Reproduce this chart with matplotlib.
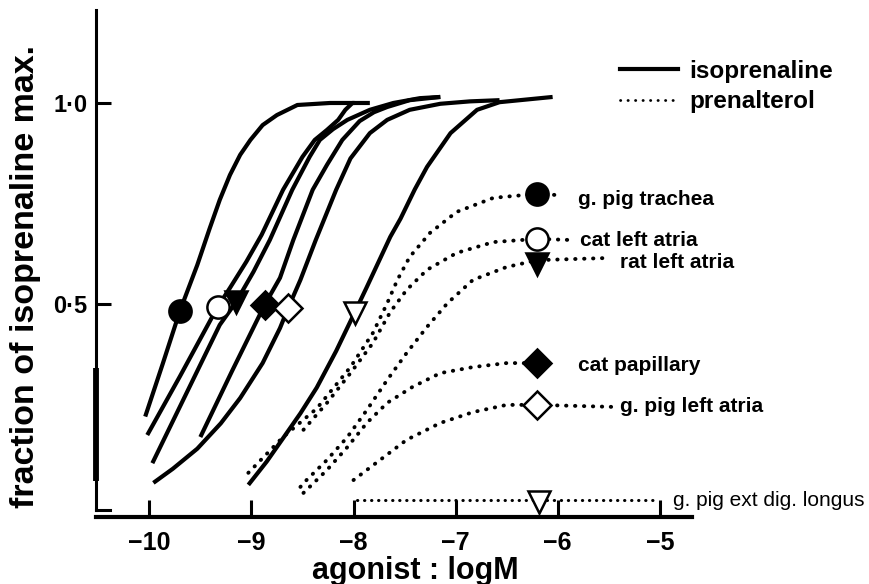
import matplotlib
matplotlib.use("Agg")
import matplotlib.pyplot as plt
from matplotlib.lines import Line2D

plt.rcParams["font.family"] = ["Liberation Sans", "DejaVu Sans"]
plt.rcParams["font.weight"] = "bold"

# isoprenaline (solid) curves, log M vs fraction of max
trachea_iso_x = [-10.04, -9.87, -9.70, -9.53, -9.41, -9.31, -9.21, -9.11, -9.01, -8.89, -8.75, -8.55, -8.23, -7.99]
trachea_iso_y = [0.22, 0.35, 0.483, 0.597, 0.687, 0.759, 0.821, 0.871, 0.908, 0.945, 0.970, 0.995, 1.0, 1.0]
catla_iso_x = [-10.02, -9.70, -9.39, -9.33, -9.21, -9.05, -8.90, -8.69, -8.50, -8.38, -8.26, -8.15, -8.08, -8.01, -7.84]
catla_iso_y = [0.174, 0.32, 0.465, 0.493, 0.540, 0.605, 0.672, 0.784, 0.866, 0.908, 0.933, 0.958, 0.983, 1.0, 1.0]
ratla_iso_x = [-9.97, -9.64, -9.31, -9.15, -8.98, -8.82, -8.60, -8.43, -8.33, -8.20, -8.06, -7.84, -7.61, -7.35, -7.15]
ratla_iso_y = [0.104, 0.276, 0.448, 0.505, 0.580, 0.659, 0.784, 0.866, 0.908, 0.935, 0.958, 0.983, 1.0, 1.012, 1.015]
catpap_iso_x = [-9.50, -9.19, -8.87, -8.72, -8.59, -8.40, -8.26, -8.11, -7.94, -7.80, -7.67, -7.45, -7.15]
catpap_iso_y = [0.169, 0.333, 0.498, 0.565, 0.659, 0.784, 0.846, 0.908, 0.955, 0.977, 0.990, 1.007, 1.015]
gpla_iso_x = [-9.96, -9.77, -9.53, -9.30, -9.11, -8.89, -8.72, -8.64, -8.52, -8.37, -8.17, -8.03, -7.84, -7.67, -7.45, -7.15, -6.86, -6.57]
gpla_iso_y = [0.055, 0.090, 0.140, 0.203, 0.266, 0.353, 0.440, 0.49, 0.560, 0.659, 0.784, 0.862, 0.925, 0.958, 0.983, 0.998, 1.004, 1.007]
edl_iso_x = [-9.03, -8.85, -8.69, -8.52, -8.36, -8.17, -7.99, -7.87, -7.64, -7.54, -7.40, -7.28, -7.05, -6.79, -6.57, -6.05]
edl_iso_y = [0.050, 0.108, 0.166, 0.228, 0.292, 0.383, 0.478, 0.542, 0.667, 0.712, 0.785, 0.841, 0.925, 0.983, 1.002, 1.015]

# marker points on isoprenaline curves (EC50)
iso_mark_x = [-9.70, -9.33, -9.15, -8.87, -8.64, -7.99]
iso_mark_y = [0.483, 0.493, 0.505, 0.498, 0.49, 0.478]

# prenalterol (dotted) curves
trachea_pre_x = [-9.03, -8.69, -8.36, -8.03, -7.81, -7.67, -7.57, -7.45, -7.25, -6.99, -6.63, -6.20, -6.01]
trachea_pre_y = [0.080, 0.169, 0.240, 0.343, 0.428, 0.502, 0.560, 0.617, 0.677, 0.729, 0.764, 0.774, 0.771]
catla_pre_x = [-8.49, -8.26, -8.03, -7.81, -7.64, -7.48, -7.28, -6.99, -6.63, -6.20, -5.85]
catla_pre_y = [0.187, 0.254, 0.328, 0.403, 0.480, 0.535, 0.585, 0.627, 0.654, 0.662, 0.659]
ratla_pre_x = [-8.52, -8.46, -8.26, -8.06, -7.87, -7.67, -7.48, -7.28, -7.08, -6.83, -6.50, -6.20, -5.56]
ratla_pre_y = [0.045, 0.062, 0.112, 0.169, 0.236, 0.311, 0.378, 0.443, 0.502, 0.560, 0.592, 0.609, 0.614]
catpap_pre_x = [-8.49, -8.26, -8.06, -7.87, -7.67, -7.42, -7.15, -6.83, -6.50, -6.20]
catpap_pre_y = [0.030, 0.087, 0.144, 0.204, 0.254, 0.294, 0.328, 0.343, 0.353, 0.353]
gpla_pre_x = [-8.00, -7.74, -7.48, -7.15, -6.83, -6.50, -6.20, -5.46]
gpla_pre_y = [0.062, 0.112, 0.162, 0.204, 0.231, 0.249, 0.249, 0.244]
edl_pre_x = [-7.97, -5.03]
edl_pre_y = [0.012, 0.012]

pre_mark_x = [-6.20, -6.20, -6.20, -6.20, -6.20, -6.18]
pre_mark_y = [0.774, 0.662, 0.600, 0.353, 0.249, 0.008]

tissues = ["g. pig trachea", "cat left atria", "rat left atria",
           "cat papillary", "g. pig left atria", "g. pig ext dig. longus"]
label_x = [-5.80, -5.78, -5.39, -5.80, -5.39, -4.87]
label_y = [0.761, 0.657, 0.604, 0.346, 0.244, 0.012]

markers = ["o", "o", "v", "D", "D", "v"]
filled = [True, False, True, True, False, False]
msizes = [16, 16, 16, 14, 14, 16]

xticks = [-10, -9, -8, -7, -6, -5]
xtick_labels = ["\u221210", "\u22129", "\u22128", "\u22127", "\u22126", "\u22125"]
yticks = [0.5, 1.0]
ytick_labels = ["0\u00b75", "1\u00b70"]

fig = plt.figure(figsize=(8.69, 5.84), dpi=100)
ax = fig.add_axes([96 / 869, 67 / 584, 596 / 869, 507 / 584])
ax.set_xlim(-10.522, -4.685)
ax.set_ylim(-0.0299, 1.2313)

iso = [(trachea_iso_x, trachea_iso_y), (catla_iso_x, catla_iso_y), (ratla_iso_x, ratla_iso_y),
       (catpap_iso_x, catpap_iso_y), (gpla_iso_x, gpla_iso_y), (edl_iso_x, edl_iso_y)]
pre = [(trachea_pre_x, trachea_pre_y), (catla_pre_x, catla_pre_y), (ratla_pre_x, ratla_pre_y),
       (catpap_pre_x, catpap_pre_y), (gpla_pre_x, gpla_pre_y), (edl_pre_x, edl_pre_y)]

dot = (0, (0.1, 2.2))
for xs, ys in iso:
    ax.plot(xs, ys, color="black", lw=3, solid_capstyle="butt", solid_joinstyle="round", zorder=2)
for i, (xs, ys) in enumerate(pre):
    lw = 2.2 if i == 5 else 2.8
    ax.plot(xs, ys, color="black", lw=lw, linestyle=dot, dash_capstyle="round", zorder=2)

for i in range(6):
    fc = "black" if filled[i] else "white"
    ax.plot(iso_mark_x[i], iso_mark_y[i], marker=markers[i], ms=msizes[i],
            mfc=fc, mec="black", mew=1.8, zorder=4)
    ax.plot(pre_mark_x[i], pre_mark_y[i], marker=markers[i], ms=msizes[i],
            mfc=fc, mec="black", mew=1.8, zorder=4)
    w = "normal" if i == 5 else "bold"
    fs = 15 if i == 5 else 15
    ax.text(label_x[i], label_y[i], tissues[i], fontsize=fs, weight=w,
            ha="left", va="center")

# axes frame
for s in ["top", "right"]:
    ax.spines[s].set_visible(False)
ax.spines["left"].set_linewidth(2.2)
ax.spines["left"].set_bounds(-0.0125, 1.2313)
ax.spines["bottom"].set_linewidth(3)
ax.plot([-10.522, -10.384], [-0.0125, -0.0125], color="black", lw=2.2, clip_on=False)
ax.plot([-10.522, -10.522], [0.06, 0.34], color="black", lw=4.2, clip_on=False, solid_capstyle="butt")

ax.set_xticks(xticks)
ax.set_xticklabels(xtick_labels)
ax.set_yticks(yticks)
ax.set_yticklabels(ytick_labels)
ax.tick_params(axis="x", direction="in", length=12, width=2.2, pad=10, labelsize=18)
ax.tick_params(axis="y", direction="in", length=11, width=2.2, pad=6, labelsize=17)

ax.set_xlabel("agonist : logM", fontsize=22, fontweight="bold")
ax.xaxis.set_label_coords(0.535, -0.076)
ax.set_ylabel("fraction of isoprenaline max.", fontsize=24.5, fontweight="bold")
ax.yaxis.set_label_coords(-0.092, 0.475)

handles = [Line2D([], [], color="black", lw=3),
           Line2D([], [], color="black", lw=2.0, linestyle=(0, (0.1, 2.6)), dash_capstyle="round")]
fig.legend(handles, ["isoprenaline", "prenalterol"], loc="upper left",
           bbox_to_anchor=(620 / 869, 1 - 60 / 584), frameon=False, fontsize=17.5,
           handlelength=2.4, handletextpad=0.45, labelspacing=0.3, borderpad=0, borderaxespad=0)

fig.savefig("out.png", dpi=100)
